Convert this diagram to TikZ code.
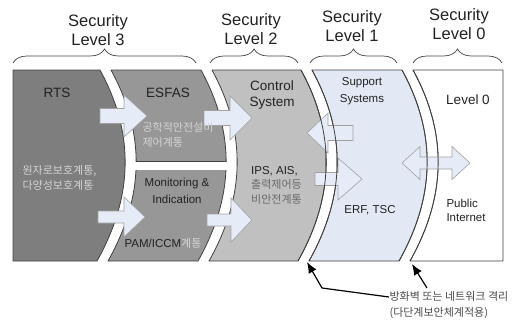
\documentclass[tikz,border=0pt]{standalone}
\usepackage{fontspec}
\setmainfont{Liberation Sans}
\newfontfamily\kr{Noto Sans CJK KR}
\usetikzlibrary{decorations.pathreplacing,arrows.meta}
\definecolor{cone}{HTML}{7E7E7E}
\definecolor{ctwo}{HTML}{979797}
\definecolor{cthree}{HTML}{C0C0C0}
\definecolor{cfour}{HTML}{E3E9F4}
\definecolor{edgegray}{HTML}{404040}
\definecolor{arrfill}{HTML}{E6ECF7}
\definecolor{arredge}{HTML}{A0A0A0}
\definecolor{txt}{HTML}{222222}
\definecolor{krlight}{HTML}{D4D4D4}
\definecolor{krdark}{HTML}{6A6A6A}
\definecolor{krnote}{HTML}{4A4A4A}
\newcommand{\myblockarrow}[6]{%
  \draw[barrowstyle] (#1,{#3-#5}) -- ({#2-(#4)},{#3-#5}) -- ({#2-(#4)},{#3-#6}) -- (#2,#3)
    -- ({#2-(#4)},{#3+#6}) -- ({#2-(#4)},{#3+#5}) -- (#1,{#3+#5}) -- cycle;}
\begin{document}
\begin{tikzpicture}[x=1pt,y=-1pt,
  panel/.style={draw=edgegray, line width=0.8pt, line join=round},
  barrowstyle/.style={fill=arrfill, draw=arredge, line width=0.6pt, line join=miter},
  cdown/.style={insert path={.. controls ({#1+35},134) and ({#1+33},197) .. ({#1-3},261)}},
  cupath/.style={insert path={.. controls ({#1+33},197) and ({#1+35},134) .. (#1,70)}},
  bracestyle/.style={draw=edgegray, line width=0.7pt, decorate, decoration={brace, amplitude=14pt}},
  title/.style={font=\fontsize{16.5}{19}\selectfont, text=txt, align=center},
  big/.style={font=\fontsize{13.5}{16}\selectfont, text=txt, align=center},
  small/.style={font=\fontsize{11.5}{16}\selectfont, text=txt, align=center},
  krtext/.style={font=\kr\fontsize{11}{15}\selectfont, align=left},
  callout/.style={draw=black, line width=1.2pt, -{Latex[length=11pt,width=9pt]}}]
\useasboundingbox (0,0) rectangle (532,321);
% ---------- titles ----------
\node[title] (t3) at (98,30) {Security\\Level 3};
\node[title] (t2) at (251,29) {Security\\Level 2};
\node[title] (t1) at (352,26) {Security\\Level 1};
\node[title] (t0) at (459,24) {Security\\Level 0};
% ---------- braces ----------
\draw[bracestyle] (13,63) -- (196,63);
\draw[bracestyle] (210,63) -- (298,63);
\draw[bracestyle] (310,63) -- (397,63);
\draw[bracestyle] (413,63) -- (502,63);
% ---------- panels ----------
\filldraw[panel, fill=cone] (13,70) -- (100,70) [cdown=100] -- (13,261) -- cycle;
\begin{scope}
  \clip (0,50) rectangle (532,161);
  \filldraw[panel, fill=ctwo] (111,70) -- (201,70) [cdown=201] -- (108,261) [cupath=111] -- cycle;
\end{scope}
\begin{scope}
  \clip (111,70) -- (201,70) [cdown=201] -- (108,261) [cupath=111] -- cycle;
  \draw[panel] (0,161) -- (532,161);
  \draw[panel] (0,170) -- (532,170);
\end{scope}
\begin{scope}
  \clip (0,170) rectangle (532,280);
  \filldraw[panel, fill=ctwo] (111,70) -- (201,70) [cdown=201] -- (108,261) [cupath=111] -- cycle;
\end{scope}
\filldraw[panel, fill=cthree] (212,70) -- (301,70) [cdown=301] -- (209,261) [cupath=212] -- cycle;
\filldraw[panel, fill=cfour] (312,70) -- (402,70) [cdown=402] -- (309,261) [cupath=312] -- cycle;
\filldraw[panel, fill=white] (413,70) -- (503,70) -- (503,261) -- (410,261) [cupath=413] -- cycle;
% ---------- arrows under the gap lines ----------
\myblockarrow{353}{307}{133}{-21}{7.5}{20}
\myblockarrow{315}{362}{179}{24}{6.5}{21}
\draw[barrowstyle] (402,163) -- (420,146.5) -- (420,157) -- (452,157) -- (452,146.5) -- (470,163)
  -- (452,179.5) -- (452,169) -- (420,169) -- (420,179.5) -- cycle;
\draw[panel] (301,70) [cdown=301];
\draw[panel] (312,70) [cdown=312];
\draw[panel] (402,70) [cdown=402];
\draw[panel] (413,70) [cdown=413];
% ---------- arrows on top ----------
\myblockarrow{100}{147}{116}{23}{7.5}{21}
\myblockarrow{98}{145}{217}{21}{6}{20}
\myblockarrow{204}{252}{118}{22}{7.5}{22}
\myblockarrow{207}{252}{220}{21}{6}{22}
% ---------- panel texts ----------
\node[big] (rts) at (57,93) {RTS};
\node[krtext, text=krlight, anchor=west] (rtsk) at (19,178) {원자로보호계통,\\다양성보호계통};
\node[big] (esfas) at (168,93) {ESFAS};
\node[krtext, text=krlight, anchor=west] (esfask) at (139,135) {공학적안전설비\\제어계통};
\node[small, font=\fontsize{11.5}{17}\selectfont] (mi) at (177,191) {Monitoring \&\\Indication};
\node[small] (pam) at (163,243) {PAM/ICCM{\kr\fontsize{11}{14}\selectfont\color{krlight}계통}};
\node[big] (ctrl) at (272,95) {Control\\System};
\node[small, anchor=north west, inner sep=0pt] (ips) at (251,166) {IPS, AIS,};
\node[krtext, text=krdark, anchor=north west, inner sep=0pt] (ipsk) at (251,179) {출력제어등\\비안전계통};
\node[small, font=\fontsize{11.5}{17}\selectfont] (sup) at (362,91) {Support\\Systems};
\node[small] (erf) at (370,210) {ERF, TSC};
\node[big] (lv0) at (468,100) {Level 0};
\node[small, font=\fontsize{11.5}{14}\selectfont, align=left, anchor=west] (pub) at (443,210) {Public\\Internet};
% ---------- annotation ----------
\node[krtext, text=krnote, font=\kr\fontsize{11}{16}\selectfont, anchor=west] (note) at (386,305) {방화벽 또는 네트워크 격리\\(다단계보안체계적용)};
\coordinate (na) at (389,297);
\coordinate (nb) at (322,288);
\coordinate (ta) at (307,262);
\coordinate (nc) at (427,288);
\coordinate (tb) at (412,264);
\draw[callout] (na) -- (nb) -- (ta);
\draw[callout] (nc) -- (tb);
\end{tikzpicture}
\end{document}
